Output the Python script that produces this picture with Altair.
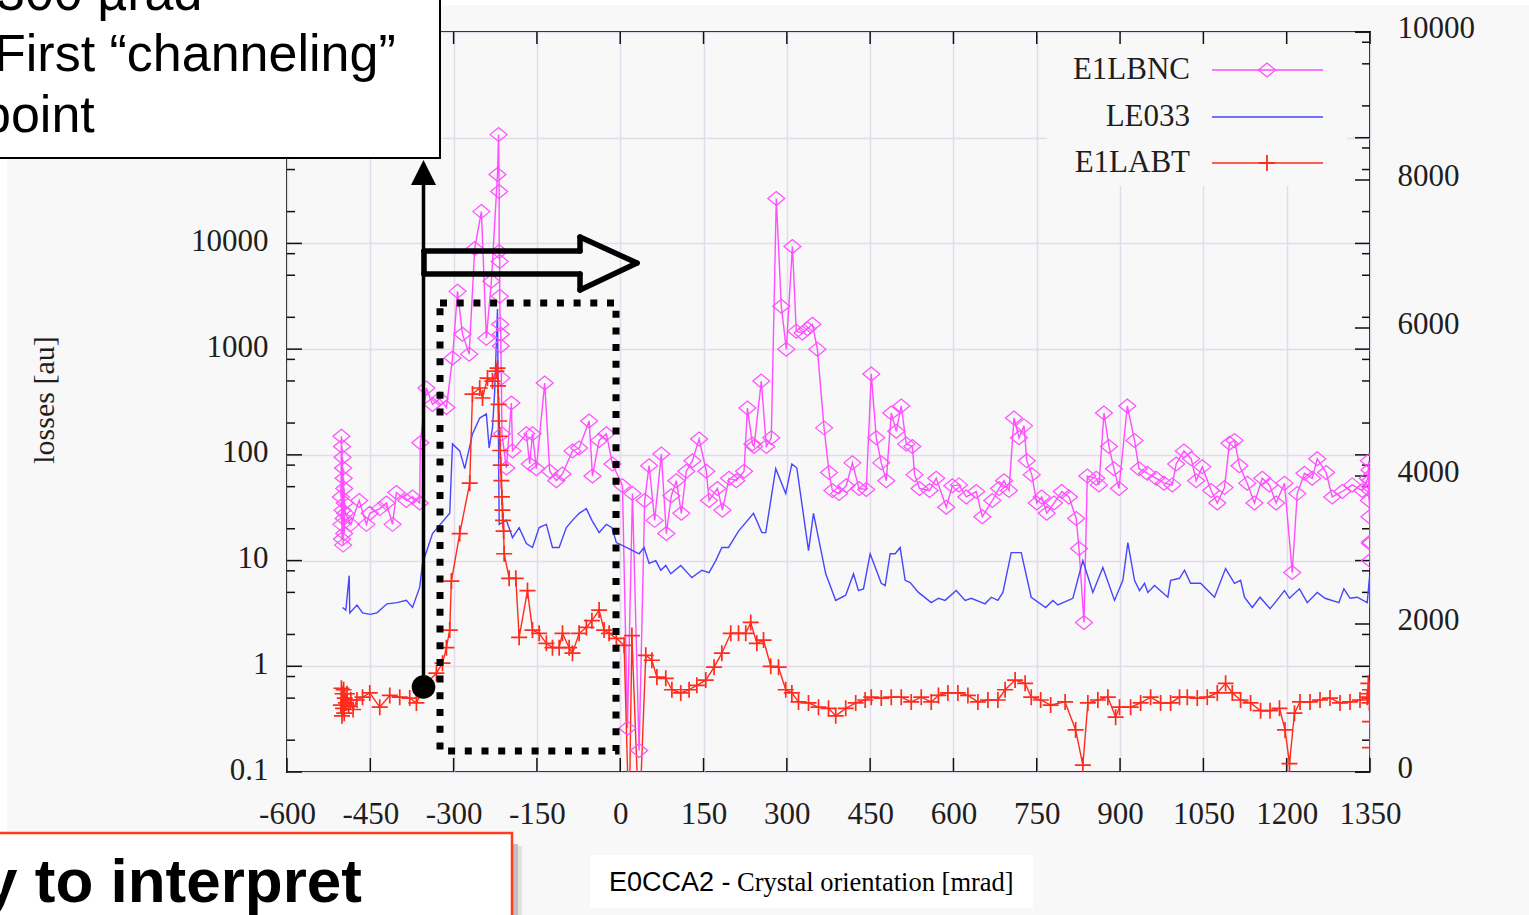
import altair as alt
import pandas as pd

# ---------------- loss-monitor readings vs crystal angle ----------------
LBNC_X = [-503, -502, -502, -501, -501, -500, -500, -499, -499, -498, -498, -497, -497, -496, -495,
          -485, -470, -457, -451, -433, -421, -410, -403, -385, -374, -361, -360, -349, -338, -325, -313,
          -302, -293, -284, -272, -262, -250, -241, -232, -221, -219, -218, -218, -217, -217, -216, -215,
          -215, -214, -213, -205, -196, -194, -169, -163, -158, -151, -136, -127, -115, -104, -86, -74,
          -56, -50, -38, -25, -14, 4, 13, 22, 34, 44, 52, 62, 74, 83, 92, 101, 110, 119, 130, 142, 155,
          160, 175, 184, 196, 209, 223, 229, 238, 241, 254, 263, 272, 281, 290, 299, 310, 317, 328, 337,
          346, 355, 367, 376, 382, 394, 407, 418, 430, 443, 452, 461, 470, 479, 488, 497, 506, 515, 526,
          530, 539, 557, 569, 587, 598, 610, 623, 641, 652, 670, 682, 691, 700, 709, 718, 727, 732, 741,
          750, 759, 768, 781, 795, 808, 821, 826, 835, 841, 857, 862, 871, 880, 889, 898, 913, 926, 934,
          949, 965, 979, 994, 1001, 1015, 1028, 1037, 1048, 1064, 1075, 1088, 1097, 1106, 1115, 1129,
          1142, 1156, 1169, 1181, 1196, 1210, 1219, 1232, 1246, 1255, 1271, 1282, 1300, 1318, 1336, 1346,
          1348, 1348, 1349, 1349, 1350, 1350, 1350, 1350, 1350, 1350]
LBNC_V = [40, 150, 22, 120, 16, 95, 30, 75, 14, 60, 25, 48, 18, 35, 28,
          22, 37, 22, 28, 31, 35, 22, 44, 37, 40, 35, 130, 429, 300, 340, 280,
          823, 3520, 1385, 897, 8970, 20000, 1270, 4380, 44800, 107000, 31000, 8400, 6760, 3160, 1720, 1385,
          1070, 532, 158, 75, 309, 109, 158, 82, 158, 74, 478, 70, 57, 66, 109, 116,
          209, 63, 137, 158, 82, 51, 0.26, 43, 0.16, 37, 79, 24, 102, 18, 41, 57, 28, 70, 88, 141, 70,
          37, 48, 30, 60, 57, 70, 277, 127, 120, 499, 120, 145, 26600, 2550, 1000, 9370, 1480, 1420, 1560,
          1720, 1000, 180, 68, 46, 43, 51, 84, 48, 47, 581, 145, 84, 57, 249, 167, 290, 127, 120,
          65, 48, 46, 60, 32, 51, 52, 40, 45, 26, 37, 48, 57, 46, 223, 145, 188, 88, 65,
          35, 40, 28, 35, 45, 40, 25, 13, 2.6, 63, 60, 52, 249, 120, 74, 48, 290, 137, 74,
          67, 60, 54, 52, 82, 109, 92, 57, 77, 46, 35, 49, 129, 137, 79, 54,
          35, 60, 52, 35, 54, 7.7, 43, 67, 60, 92, 68, 40, 45, 52, 46, 60,
          88, 37, 72, 26, 57, 15, 46, 10, 50, 14.5]

LE033_X = [-500, -494, -488, -487, -474, -464, -450, -438, -420, -402, -385, -374, -361, -356, -338, -307,
           -302, -289, -280, -266, -253, -241, -236, -230, -226, -221, -218, -205, -194, -182, -169, -158,
           -146, -133, -122, -110, -97, -86, -74, -61, -51, -38, -25, -15, -7, 11, 34, 43,
           52, 64, 73, 82, 91, 109, 129, 147, 160, 172, 183, 195, 213, 240, 255, 262,
           280, 298, 309, 318, 339, 348, 370, 388, 406, 420, 429, 438, 450, 470, 477, 486,
           495, 504, 513, 522, 537, 560, 573, 585, 605, 621, 632, 657, 668, 680, 689, 704,
           722, 740, 766, 779, 788, 815, 833, 851, 869, 890, 905, 914, 926, 935, 944, 950,
           962, 986, 991, 1007, 1016, 1027, 1045, 1070, 1090, 1106, 1117, 1124, 1138, 1152, 1170, 1179,
           1196, 1205, 1223, 1237, 1255, 1269, 1294, 1303, 1314, 1327, 1345, 1349, 1350]
LE033_V = [3.6, 3.4, 7.2, 3.2, 3.8, 3.2, 3.1, 3.2, 3.9, 4.0, 4.2, 3.6, 5.6, 9.4, 18, 28,
           127, 109, 74, 158, 223, 244, 116, 180, 400, 2400, 22, 24, 16.5, 20.5, 14.5, 13.3,
           20.5, 22, 13.3, 13.3, 20.5, 24, 28, 31, 24, 18.4, 22, 20.5, 14.8, 13.3, 11.6, 13.3,
           9.4, 10, 8.1, 9.0, 7.5, 9.0, 6.9, 8.1, 7.7, 10, 13.3, 13.3, 19, 28, 18.4, 18.4,
           74, 43, 82, 75, 12.4, 28, 7.5, 4.2, 4.7, 7.5, 5.2, 5.4, 11.6, 6.1, 5.8, 11.6,
           11.6, 13.3, 6.5, 6.2, 5.0, 4.0, 4.4, 4.2, 5.2, 4.2, 4.4, 3.9, 4.5, 4.2, 5.0, 11.9,
           11.9, 4.5, 3.6, 4.2, 3.8, 4.4, 10, 5.0, 8.6, 4.2, 6.5, 14.8, 6.5, 5.2, 6.1, 5.0,
           5.8, 4.5, 6.5, 6.8, 8.1, 6.1, 6.1, 4.5, 8.4, 6.1, 6.5, 4.5, 3.6, 4.5, 3.5, 4.0,
           5.2, 4.4, 5.4, 4.0, 5.0, 4.4, 4.0, 5.4, 4.4, 4.5, 4.0, 6.9, 3.6]

LABT_X = [-503, -502, -501, -500, -499, -498, -497, -496, -494, -492, -489, -485, -481, -474, -464, -451,
          -433, -415, -397, -379, -367, -349, -331, -320, -313, -307, -304, -289, -271, -266, -253, -248,
          -239, -230, -223, -221, -220, -219, -218, -217, -216, -215, -214, -213, -212, -211, -210, -209,
          -200, -188, -182, -167, -158, -146, -133, -122, -110, -104, -92, -86, -74, -61, -51, -38,
          -29, -20, -7, 7, 16, 21, 34, 46, 57, 66, 82, 93, 109, 124, 138, 154,
          169, 183, 199, 213, 226, 235, 246, 258, 271, 285, 298, 309, 321, 339, 357, 375,
          388, 406, 424, 441, 452, 470, 488, 506, 524, 542, 560, 573, 590, 608, 626, 644,
          662, 680, 693, 711, 729, 740, 757, 775, 801, 820, 833, 842, 860, 878, 892, 899,
          919, 937, 955, 973, 991, 1007, 1021, 1039, 1057, 1075, 1090, 1102, 1117, 1135, 1153, 1170,
          1187, 1197, 1205, 1214, 1224, 1242, 1260, 1278, 1296, 1314, 1332, 1345, 1347, 1348, 1349, 1350,
          1350, 1350]
LABT_V = [0.43, 0.62, 0.34, 0.55, 0.40, 0.6, 0.36, 0.5, 0.45, 0.55, 0.42, 0.48, 0.39, 0.48, 0.51, 0.56,
          0.41, 0.53, 0.51, 0.5, 0.45, 0.69, 0.86, 1.07, 1.5, 2.2, 6.4, 18, 54, 376, 429, 345,
          532, 499, 620, 660, 450, 300, 209, 150, 110, 80, 57, 40, 30, 24, 19, 11.6,
          6.8, 6.8, 1.88, 5.2, 2.2, 2.05, 1.65, 1.5, 1.5, 2.05, 1.5, 1.33, 2.05, 2.33, 2.7, 3.4,
          2.2, 2.05, 1.84, 1.58, 0.03, 1.95, 0.03, 1.27, 1.14, 0.79, 0.77, 0.6, 0.56, 0.6, 0.66, 0.74,
          0.98, 1.33, 2.05, 2.05, 2.05, 2.6, 1.65, 1.77, 1.0, 0.98, 0.6, 0.56, 0.46, 0.45, 0.41, 0.40,
          0.34, 0.40, 0.45, 0.48, 0.51, 0.5, 0.51, 0.51, 0.46, 0.51, 0.46, 0.53, 0.56, 0.56, 0.53, 0.46,
          0.48, 0.48, 0.6, 0.74, 0.69, 0.51, 0.48, 0.43, 0.46, 0.25, 0.116, 0.45, 0.48, 0.51, 0.33, 0.41,
          0.41, 0.45, 0.51, 0.45, 0.45, 0.51, 0.51, 0.5, 0.51, 0.56, 0.69, 0.56, 0.48, 0.45, 0.38, 0.38,
          0.40, 0.25, 0.12, 0.36, 0.46, 0.46, 0.48, 0.5, 0.45, 0.46, 0.48, 0.51, 0.69, 0.55, 0.45, 0.6,
          0.3, 0.17]

SERIES = ["E1LBNC", "LE033", "E1LABT"]
COLORS = ["#ff4dff", "#4646ff", "#ff2b1c"]

X_TICKS = [-600, -450, -300, -150, 0, 150, 300, 450, 600, 750, 900, 1050, 1200, 1350]
Y_DECADES = [0.1, 1, 10, 100, 1000, 10000, 100000, 1000000]
Y_MINOR = [m * d for d in Y_DECADES[:-1] for m in (2, 5, 8)]
Y2_TICKS = [0, 2000, 4000, 6000, 8000, 10000]

# ---------------- layout ----------------
W, H = 1083, 740
SERIF = "Liberation Serif"
SANS = "Liberation Sans"
BG = "#f8f8f8"
GRID = "#e3dbea"
INK = "#1e1e1e"


def series_frame(name, xs, vs):
    return pd.DataFrame({"series": name, "x": xs, "v": vs, "i": range(len(xs))})


df = pd.concat([series_frame("E1LBNC", LBNC_X, LBNC_V),
                series_frame("LE033", LE033_X, LE033_V),
                series_frame("E1LABT", LABT_X, LABT_V)], ignore_index=True)

X_SCALE = alt.Scale(domain=[-600, 1350], nice=False, zero=False)
LOG_SCALE = alt.Scale(type="log", domain=[0.1, 1e6], nice=False)
LIN_SCALE = alt.Scale(domain=[0, 10000], nice=False, zero=False)

X_AXIS = alt.Axis(values=X_TICKS, title=None, ticks=False, domain=False, grid=True,
                  gridColor=GRID, gridWidth=1.5, labelFont=SERIF, labelFontSize=31,
                  labelColor=INK, labelPadding=42, labelBaseline="middle",
                  labelFlush=False, labelOverlap=False, labelAngle=0,
                  labelExpr="'' + datum.value")
# decades above 10^4 sit under the call-out box, so they carry no label text
Y_LEFT = alt.Axis(orient="left", values=Y_DECADES, title=None, ticks=False, domain=False,
                  grid=True, gridColor=GRID, gridWidth=1.5, labelFont=SERIF, labelFontSize=31,
                  labelColor=INK, labelPadding=19, labelOffset=-2, labelFlush=False,
                  labelOverlap=False,
                  labelExpr="datum.value < 1 ? '0.1' : (datum.value > 10000 ? '' : '' + datum.value)")
Y_RIGHT = alt.Axis(orient="right", values=Y2_TICKS, title=None, ticks=False, domain=False,
                   grid=False, labelFont=SERIF, labelFontSize=31, labelColor=INK,
                   labelPadding=27, labelOffset=-4, labelFlush=False, labelOverlap=False,
                   labelExpr="'' + datum.value")

xenc = alt.X("x:Q", scale=X_SCALE, axis=X_AXIS)
ylog_plain = alt.Y("v:Q", scale=LOG_SCALE, axis=None)
one = pd.DataFrame({"k": [0]})


def rect(x1, x2, y1, y2, **kw):
    return alt.Chart(one).mark_rect(**kw).encode(
        x=alt.value(x1), x2=alt.value(x2), y=alt.value(y1), y2=alt.value(y2))


def seg(x1, y1, x2, y2, **kw):
    return alt.Chart(one).mark_rule(**kw).encode(
        x=alt.value(x1), y=alt.value(y1), x2=alt.value(x2), y2=alt.value(y2))


def label(txt, x, y, **kw):
    return alt.Chart(one).mark_text(text=txt, **kw).encode(x=alt.value(x), y=alt.value(y))


def symbol(x, y, **kw):
    return alt.Chart(one).mark_point(**kw).encode(x=alt.value(x), y=alt.value(y))


DIAMOND = "M-1,0L0,-0.82L1,0L0,0.82Z"
PLUS = "M-1,0L1,0M0,-1L0,1"

# slide margins and opaque key box
layers = [
    rect(-287, 1242, -32, -27, fill="white"),
    rect(-287, -280, -32, 883, fill="white"),
    rect(760, 1060, 2, 154, fill=BG),
]

# inward tick marks on all four sides
xt = alt.Chart(pd.DataFrame({"x": X_TICKS}))
ymaj = alt.Chart(pd.DataFrame({"v": Y_DECADES}))
ymin = alt.Chart(pd.DataFrame({"v": Y_MINOR}))
y2t = alt.Chart(pd.DataFrame({"v": Y2_TICKS}))
tick = dict(color="#111111", strokeWidth=1.5)
layers += [
    xt.mark_rule(**tick).encode(x=xenc, y=alt.value(H), y2=alt.value(H - 14)),
    xt.mark_rule(**tick).encode(x=xenc, y=alt.value(0), y2=alt.value(12)),
    ymaj.mark_rule(**tick).encode(y=ylog_plain, x=alt.value(0), x2=alt.value(15)),
    ymaj.mark_rule(**tick).encode(y=ylog_plain, x=alt.value(W), x2=alt.value(W - 15)),
    ymin.mark_rule(**tick).encode(y=ylog_plain, x=alt.value(0), x2=alt.value(8)),
    ymin.mark_rule(**tick).encode(y=ylog_plain, x=alt.value(W), x2=alt.value(W - 8)),
    y2t.mark_rule(**tick).encode(y=alt.Y("v:Q", scale=LIN_SCALE, axis=Y_RIGHT),
                                 x=alt.value(W), x2=alt.value(W - 15)),
]

# the three loss curves
base = alt.Chart(df)
layers += [
    base.mark_line(clip=True, strokeWidth=1.4).encode(
        x=xenc,
        y=alt.Y("v:Q", scale=LOG_SCALE, axis=Y_LEFT),
        color=alt.Color("series:N", scale=alt.Scale(domain=SERIES, range=COLORS), legend=None),
        order=alt.Order("i:Q"),
    ),
    base.transform_filter(alt.datum.series == "E1LBNC").mark_point(
        clip=True, shape=DIAMOND, size=289, filled=False, strokeWidth=1.2,
        color=COLORS[0], opacity=1).encode(x=xenc, y=ylog_plain),
    base.transform_filter(alt.datum.series == "E1LABT").mark_point(
        clip=True, shape=PLUS, size=256, filled=False, strokeWidth=1.7,
        color=COLORS[2], opacity=1).encode(x=xenc, y=ylog_plain),
]

# key
key_rows = [38, 85, 131]
for name, color, ky in zip(SERIES, COLORS, key_rows):
    layers.append(label(name, 903, ky, font=SERIF, fontSize=31, color=INK,
                        align="right", baseline="middle"))
    layers.append(seg(925, ky, 1036, ky, color=color, strokeWidth=1.6))
layers.append(symbol(980, key_rows[0], shape=DIAMOND, size=289, filled=False,
                     strokeWidth=1.3, color=COLORS[0], opacity=1))
layers.append(symbol(980, key_rows[2], shape=PLUS, size=256, filled=False,
                     strokeWidth=1.8, color=COLORS[2], opacity=1))

# highlighted scan window and arrows
layers += [
    rect(153, 329, 271, 719, filled=False, stroke="black", strokeWidth=7, strokeDash=[7, 9.7]),
    seg(136.5, 150, 136.5, 655, color="black", strokeWidth=3.5),
    symbol(136.5, 140.5, shape="M0,-1L1,1L-1,1Z", size=625, filled=True, color="black", opacity=1),
    symbol(136.5, 655, shape="circle", size=556, filled=True, color="black", opacity=1),
]
arrow = [(137, 219), (293, 219), (293, 205), (350, 231), (293, 258), (293, 242), (137, 242), (137, 219)]
for (ax1, ay1), (ax2, ay2) in zip(arrow[:-1], arrow[1:]):
    layers.append(seg(ax1, ay1, ax2, ay2, color="black", strokeWidth=5.5, strokeCap="round"))

# call-out boxes
layers += [
    rect(-300, 153, -40, 126, fill="white", stroke="black", strokeWidth=2),
    label("300 µrad", -291, -22, font=SANS, fontSize=52, color="black",
          align="left", baseline="alphabetic"),
    label("First “channeling”", -293, 39, font=SANS, fontSize=52, color="black",
          align="left", baseline="alphabetic"),
    label("point", -305, 100, font=SANS, fontSize=52, color="black",
          align="left", baseline="alphabetic"),
    rect(226, 231, 812, 883, fill="#7a7a7a", opacity=0.45),
    rect(231, 235, 814, 883, fill="#7a7a7a", opacity=0.18),
    rect(-300, 225, 801, 900, fill="white", stroke="#ff3b1f", strokeWidth=2.5),
    label("Not easy to interpret", 75, 870, font=SANS, fontSize=62, fontWeight="bold",
          color="black", align="right", baseline="alphabetic"),
    rect(303, 746, 823, 876, fill="white"),
    label("E0CCA2 -", 322, 859, font=SANS, fontSize=27, color="black",
          align="left", baseline="alphabetic"),
    label("Crystal orientation [mrad]", 450, 859, font=SERIF, fontSize=26.5, color="black",
          align="left", baseline="alphabetic"),
    label("losses [au]", -242, 368, font=SERIF, fontSize=30, color=INK, angle=270,
          align="center", baseline="middle"),
]

chart = alt.layer(*layers).resolve_scale(y="independent").properties(
    width=W, height=H,
    padding={"left": 287, "top": 32, "right": 159, "bottom": 143},
    autosize=alt.AutoSizeParams(type="none"),
).configure(background=BG).configure_view(stroke="black", strokeWidth=2)

chart.save("out.html", embed_options={"renderer": "svg", "actions": False})
